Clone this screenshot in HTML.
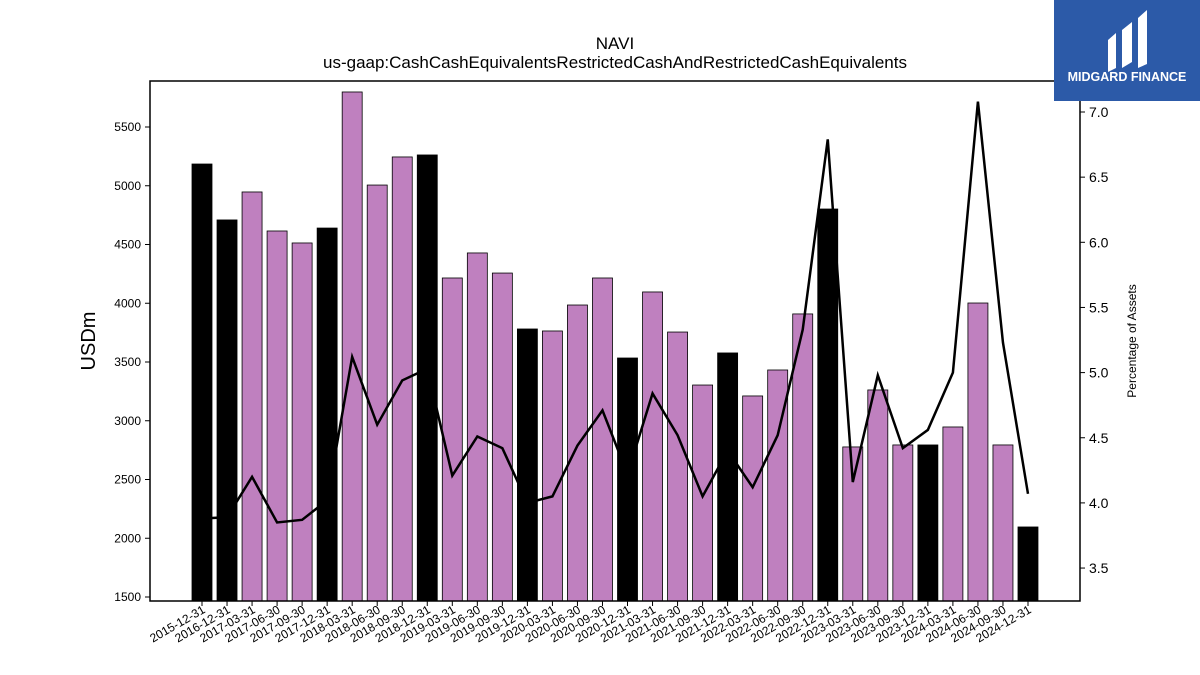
<!DOCTYPE html>
<html><head><meta charset="utf-8"><style>
body{margin:0;background:#fff;font-family:"Liberation Sans",sans-serif}
#wrap{position:relative;width:1200px;height:675px;overflow:hidden}
</style></head><body>
<div id="wrap">
<svg id="chart" width="1200" height="675" xmlns="http://www.w3.org/2000/svg">
<text x="615" y="49" text-anchor="middle" font-size="17">NAVI</text>
<text x="615" y="68" text-anchor="middle" font-size="17">us-gaap:CashCashEquivalentsRestrictedCashAndRestrictedCashEquivalents</text>
<text transform="translate(95,341) rotate(-90)" text-anchor="middle" font-size="20">USDm</text>
<text transform="translate(1136,341) rotate(-90)" text-anchor="middle" font-size="12">Percentage of Assets</text>
<g id="bars"></g><g id="line"></g><g id="axes"></g>
<rect x="150" y="81" width="930" height="520" fill="none" stroke="#000" stroke-width="1.5"/>
<g>
<rect x="1054" y="0" width="146" height="101" fill="#2c5aa8"/>
<path d="M1108 40 L1116 33 L1116 68 L1108 72 Z M1122 30 L1132 22 L1132 62 L1122 68 Z M1138 18 L1147 10 L1147 64 L1138 68 Z" fill="#fff"/>
<text x="1127" y="81" text-anchor="middle" font-size="12.5" font-weight="bold" fill="#fff">MIDGARD FINANCE</text>
</g>
</svg>
</div>
<script>
const categories=["2015-12-31","2016-12-31","2017-03-31","2017-06-30","2017-09-30","2017-12-31","2018-03-31","2018-06-30","2018-09-30","2018-12-31","2019-03-31","2019-06-30","2019-09-30","2019-12-31","2020-03-31","2020-06-30","2020-09-30","2020-12-31","2021-03-31","2021-06-30","2021-09-30","2021-12-31","2022-03-31","2022-06-30","2022-09-30","2022-12-31","2023-03-31","2023-06-30","2023-09-30","2023-12-31","2024-03-31","2024-06-30","2024-09-30","2024-12-31"];
const cashValues=[5185,4709,4947,4615,4513,4640,5798,5006,5245,5262,4215,4428,4257,3781,3764,3985,4215,3534,4096,3755,3304,3577,3211,3432,3909,4802,2777,3262,2794,2794,2947,4002,2794,2096];
const pctOfAssets=[3.88,3.89,4.20,3.85,3.87,4.02,5.12,4.60,4.94,5.03,4.21,4.51,4.42,4.00,4.05,4.44,4.71,4.22,4.84,4.52,4.05,4.40,4.12,4.52,5.33,6.79,4.16,4.98,4.42,4.56,5.00,7.08,5.23,4.07];
const leftTicks=[1500,2000,2500,3000,3500,4000,4500,5000,5500];
const rightTicks=[3.5,4.0,4.5,5.0,5.5,6.0,6.5,7.0];
const NS="http://www.w3.org/2000/svg";
const yL=v=>597-(v-1500)*0.1175;
const yR=v=>112+(7-v)*130.3;
const xC=i=>202+i*25.03;
const bars=document.getElementById('bars'),line=document.getElementById('line'),axes=document.getElementById('axes');
function mk(t,a,p){const e=document.createElementNS(NS,t);for(const k in a)e.setAttribute(k,a[k]);p.appendChild(e);return e;}
categories.forEach((c,i)=>{
  const black=c.endsWith('12-31');
  const top=yL(cashValues[i]);
  const r=mk('rect',{x:xC(i)-10,y:top,width:20,height:601-top,fill:black?'#000':'#bf80bf',stroke:'#000','stroke-width':0.8},bars);
  
  
  const t=mk('line',{x1:xC(i),x2:xC(i),y1:601,y2:606,stroke:'#000'},axes);
  
  
  const l=mk('text',{transform:`translate(${xC(i)+4},${612}) rotate(-30)`,'text-anchor':'end','font-size':12},axes);
  l.textContent=c;
  
  
});
const pl=mk('polyline',{points:pctOfAssets.map((v,i)=>xC(i)+','+yR(v)).join(' '),fill:'none',stroke:'#000','stroke-width':2.5},line);


leftTicks.forEach(v=>{
  const t=mk('line',{x1:145,x2:150,y1:yL(v),y2:yL(v),stroke:'#000'},axes);
  
  
  const l=mk('text',{x:141,y:yL(v)+4,'text-anchor':'end','font-size':12},axes);
  l.textContent=v;
  
  
});
rightTicks.forEach(v=>{
  const t=mk('line',{x1:1080,x2:1085,y1:yR(v),y2:yR(v),stroke:'#000'},axes);
  
  
  const l=mk('text',{x:1089,y:yR(v)+5,'font-size':14},axes);
  l.textContent=v.toFixed(1);
  
  
});
</script>
</body></html>
